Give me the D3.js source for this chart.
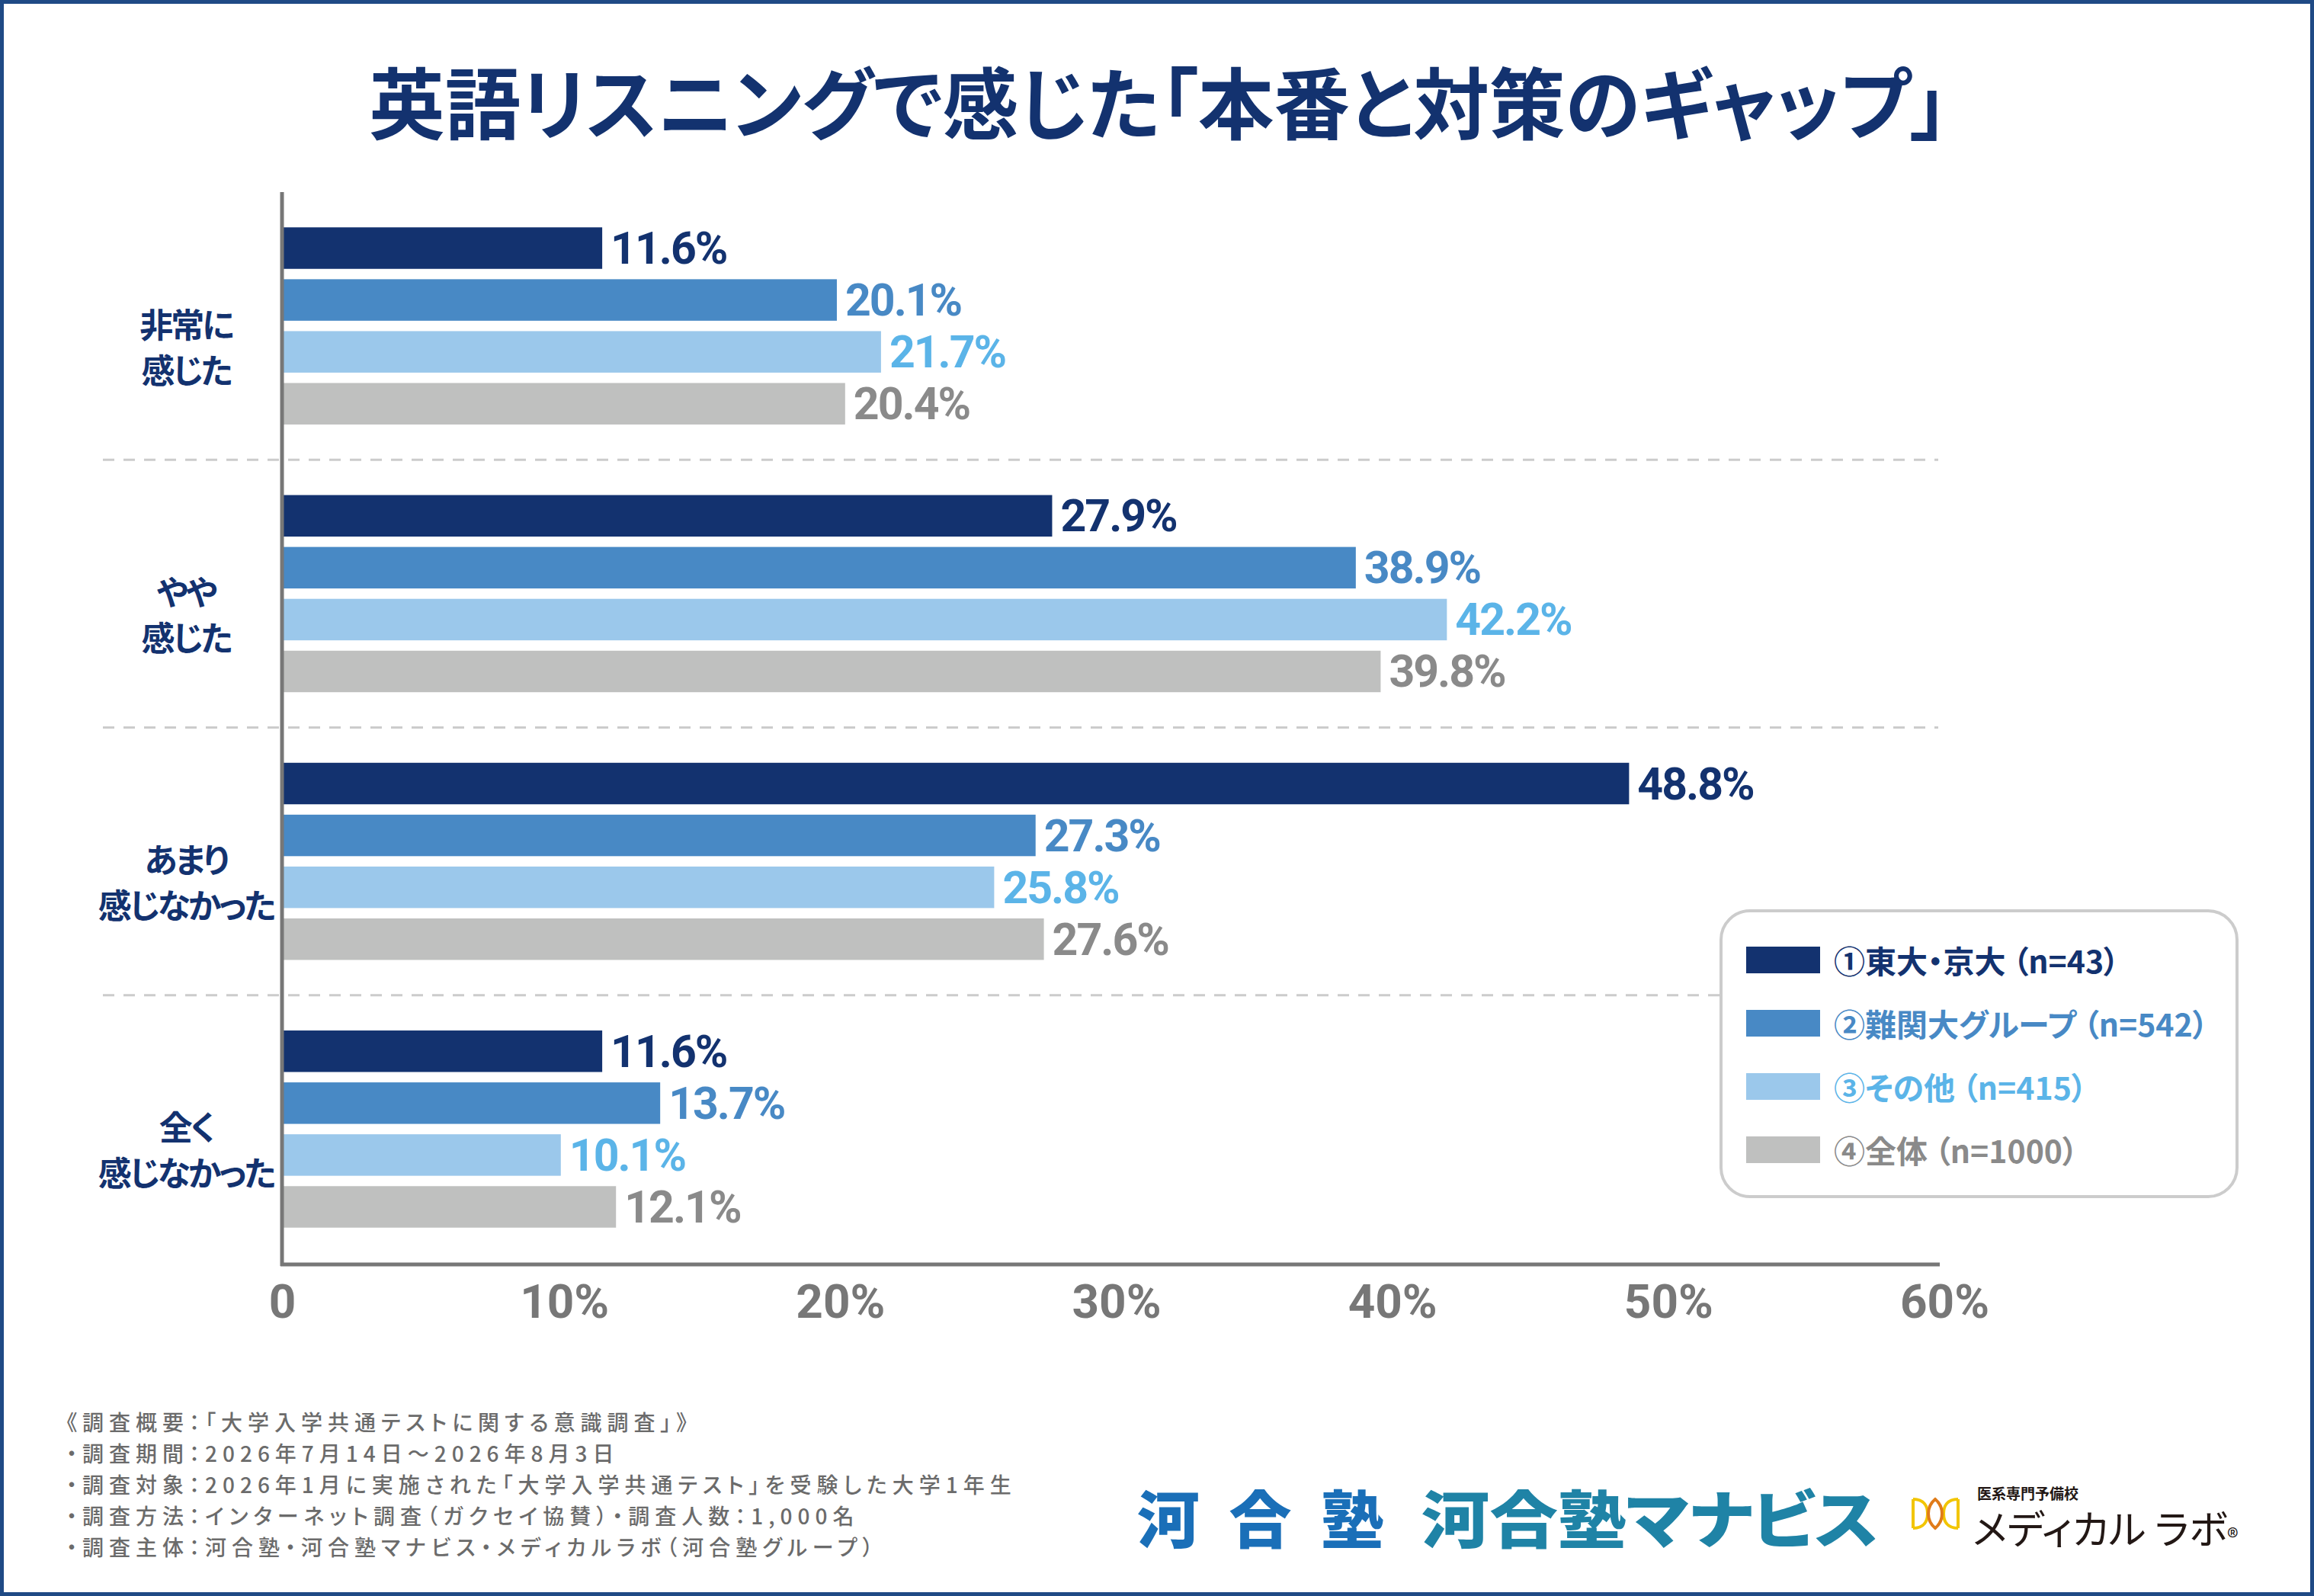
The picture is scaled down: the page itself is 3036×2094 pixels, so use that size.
<!DOCTYPE html>
<html lang="ja">
<head>
<meta charset="utf-8">
<script src="https://cdn.jsdelivr.net/npm/d3@7"></script>
<style>
  body { margin: 0; background: #fff; }
  svg { display: block; }
  .jp { font-family: "Noto Sans CJK JP", "Noto Sans", sans-serif; font-feature-settings: "palt"; }
  .num { font-family: Roboto, "Noto Sans", sans-serif; }
</style>
</head>
<body>
<svg id="chart" width="3036" height="2094"></svg>
<script>

// ---- data ----
var categories = ["非常に感じた", "やや感じた", "あまり感じなかった", "全く感じなかった"];
var categoryLines = [["非常に", "感じた"], ["やや", "感じた"], ["あまり", "感じなかった"], ["全く", "感じなかった"]];
var seriesNames = ["①東大・京大 （n=43）", "②難関大グループ （n=542）", "③その他 （n=415）", "④全体 （n=1000）"];
var todaiKyodai = [11.6, 27.9, 48.8, 11.6];
var nankanGroup = [20.1, 38.9, 27.3, 13.7];
var sonota = [21.7, 42.2, 25.8, 10.1];
var zentai = [20.4, 39.8, 27.6, 12.1];
var tickValues = [0, 10, 20, 30, 40, 50, 60];
var tickLabels = ["0", "10%", "20%", "30%", "40%", "50%", "60%"];
var footnotes = [
  "《調査概要：「大学入学共通テストに関する意識調査」》",
  "・調査期間：2026年7月14日～2026年8月3日",
  "・調査対象：2026年1月に実施された「大学入学共通テスト」を受験した大学1年生",
  "・調査方法：インターネット調査（ガクセイ協賛）・調査人数：1,000名",
  "・調査主体：河合塾・河合塾マナビス・メディカルラボ（河合塾グループ）"
];

var seriesValues = [todaiKyodai, nankanGroup, sonota, zentai];
var barColors = ["#13326f", "#4889c5", "#9bc8eb", "#bfc0bf"];
var textColors = ["#13326f", "#4889c5", "#5bb4e8", "#8a8a8a"];
var navy = "#13326f";

var svg = d3.select("#chart");

// frame
svg.append("rect")
  .attr("x", 2.5).attr("y", 2.5)
  .attr("width", 3031).attr("height", 2089)
  .attr("fill", "#fff")
  .attr("stroke", "#1f4a85")
  .attr("stroke-width", 5);

// title
svg.append("text")
  .attr("class", "jp")
  .attr("x", 1520).attr("y", 130)
  .attr("text-anchor", "middle")
  .attr("dominant-baseline", "central")
  .attr("textLength", 2072)
  .attr("lengthAdjust", "spacingAndGlyphs")
  .style("font-size", "102px")
  .style("font-weight", 700)
  .style("fill", navy)
  .text("英語リスニングで感じた「本番と対策のギャップ」");

// ---- scales ----
var x = d3.scaleLinear().domain([0, 60]).range([370, 2543]);
var y0 = d3.scaleBand().domain(categories).range([252, 1657]);
var y1 = d3.scaleBand().domain(d3.range(seriesNames.length))
  .range([0, y0.bandwidth()])
  .paddingInner(0.2)
  .paddingOuter(0.68);

// dashed separators between groups
svg.append("g").selectAll("line")
  .data(categories.slice(1))
  .join("line")
  .attr("x1", 135).attr("x2", 2543)
  .attr("y1", function(d) { return y0(d); })
  .attr("y2", function(d) { return y0(d); })
  .style("stroke", "#cccccc")
  .style("stroke-width", "3px")
  .style("stroke-dasharray", "15,12");

// bars + value labels
var groups = svg.append("g").selectAll("g")
  .data(categories)
  .join("g")
  .attr("transform", function(d) { return "translate(0," + y0(d) + ")"; });

groups.selectAll("rect")
  .data(function(d, i) { return seriesValues.map(function(s, j) { return { s: j, v: s[i] }; }); })
  .join("rect")
  .attr("x", x(0))
  .attr("y", function(d) { return y1(d.s); })
  .attr("width", function(d) { return x(d.v) - x(0); })
  .attr("height", y1.bandwidth())
  .style("fill", function(d) { return barColors[d.s]; });

groups.selectAll("text.val")
  .data(function(d, i) { return seriesValues.map(function(s, j) { return { s: j, v: s[i] }; }); })
  .join("text")
  .attr("class", "val num")
  .attr("x", function(d) { return x(d.v) + 11; })
  .attr("y", function(d) { return y1(d.s) + y1.bandwidth() / 2; })
  .attr("dominant-baseline", "central")
  .style("font-size", "59px")
  .style("font-weight", 700)
  .style("letter-spacing", "-2px")
  .style("fill", function(d) { return textColors[d.s]; })
  .text(function(d) { return d.v.toFixed(1) + "%"; });

// category labels, one text per line
categories.forEach(function(d, i) {
  var c = y0(d) + y0.bandwidth() / 2;
  svg.append("g").selectAll("text")
    .data(categoryLines[i])
    .join("text")
    .attr("class", "jp")
    .attr("x", 244)
    .attr("y", function(t, k) { return c - 4 + k * 60; })
    .attr("text-anchor", "middle")
    .attr("dominant-baseline", "central")
    .style("font-size", "44px")
    .style("font-weight", 700)
    .style("letter-spacing", "-3px")
    .style("fill", navy)
    .text(function(t) { return t; });
});

// x axis
var xAxis = svg.append("g")
  .attr("transform", "translate(0,1659)")
  .call(d3.axisBottom(x).tickValues(tickValues).tickSize(0).tickPadding(50)
    .tickFormat(function(d, i) { return tickLabels[i]; }));
xAxis.select(".domain")
  .attr("d", "M368,0H2545")
  .style("stroke", "#777")
  .style("stroke-width", "5px");
xAxis.selectAll(".tick text")
  .attr("class", "num")
  .attr("dx", function(d) { return d === 0 ? 0 : 8; })
  .attr("dy", "0.32em")
  .style("font-size", "62px")
  .style("font-weight", 700)
  .style("fill", "#777");

// y axis line
svg.append("line")
  .attr("x1", 370).attr("x2", 370)
  .attr("y1", 252).attr("y2", 1661)
  .style("stroke", "#777")
  .style("stroke-width", "5px");

// ---- legend ----
var legend = svg.append("g").attr("transform", "translate(2258,1195)");
legend.append("rect")
  .attr("width", 677).attr("height", 375)
  .attr("rx", 38)
  .style("fill", "#fff")
  .style("stroke", "#cccccc")
  .style("stroke-width", "4px");

var legendY = d3.scalePoint().domain(d3.range(seriesNames.length)).range([64, 313]);
var items = legend.selectAll("g.item")
  .data(seriesNames)
  .join("g")
  .attr("class", "item")
  .attr("transform", function(d, i) { return "translate(0," + legendY(i) + ")"; });
items.append("rect")
  .attr("x", 33).attr("y", -17)
  .attr("width", 97).attr("height", 35)
  .style("fill", function(d, i) { return barColors[i]; });
items.append("text")
  .attr("class", "jp")
  .attr("x", 148)
  .attr("dominant-baseline", "central")
  .style("font-size", "41px")
  .style("font-weight", 700)
  .style("fill", function(d, i) { return textColors[i]; })
  .text(function(d) { return d; });

// ---- footnotes ----
svg.append("g").selectAll("text")
  .data(footnotes)
  .join("text")
  .attr("class", "jp")
  .attr("x", 87)
  .attr("y", function(d, i) { return 1865 + i * 41; })
  .attr("dominant-baseline", "central")
  .style("font-size", "28px")
  .style("font-weight", 500)
  .style("letter-spacing", "7px")
  .style("fill", "#6b6b6b")
  .text(function(d) { return d; });

// ---- logos ----
svg.append("text")
  .attr("class", "jp")
  .attr("x", 1492).attr("y", 1988)
  .attr("dominant-baseline", "central")
  .attr("textLength", 323)
  .attr("lengthAdjust", "spacing")
  .style("font-size", "82px")
  .style("font-weight", 900)
  .style("fill", "#1a6fb8")
  .text("河合塾");

svg.append("text")
  .attr("class", "jp")
  .attr("x", 1865).attr("y", 1988)
  .attr("dominant-baseline", "central")
  .attr("textLength", 600)
  .attr("lengthAdjust", "spacingAndGlyphs")
  .style("font-size", "82px")
  .style("font-weight", 900)
  .style("fill", "#1f83a6")
  .text("河合塾マナビス");

// medical labo mark
var mark = svg.append("g").attr("transform", "translate(2507,1965)");
mark.append("path")
  .attr("d", "M3,2 V40 M3,2 C18,2 22,12 22,21 C22,30 18,40 3,40 M62,2 V40 M62,2 C47,2 43,12 43,21 C43,30 47,40 62,40")
  .style("fill", "none")
  .style("stroke", "#f2c500")
  .style("stroke-width", "4px");
mark.append("path")
  .attr("d", "M32,2 C20,12 20,30 32,40 C44,30 44,12 32,2 Z")
  .style("fill", "none")
  .style("stroke", "#e07b1a")
  .style("stroke-width", "4px");

svg.append("text")
  .attr("class", "jp")
  .attr("x", 2594).attr("y", 1958)
  .attr("dominant-baseline", "central")
  .style("font-size", "19px")
  .style("font-weight", 700)
  .style("fill", "#231815")
  .text("医系専門予備校");

svg.append("text")
  .attr("class", "jp")
  .attr("x", 2588).attr("y", 2003)
  .attr("dominant-baseline", "central")
  .style("font-size", "52px")
  .style("font-weight", 400)
  .style("fill", "#231815")
  .text("メディカル ラボ")
  .append("tspan")
  .style("font-size", "30px")
  .attr("dy", "12")
  .text("®");

</script>
</body>
</html>
